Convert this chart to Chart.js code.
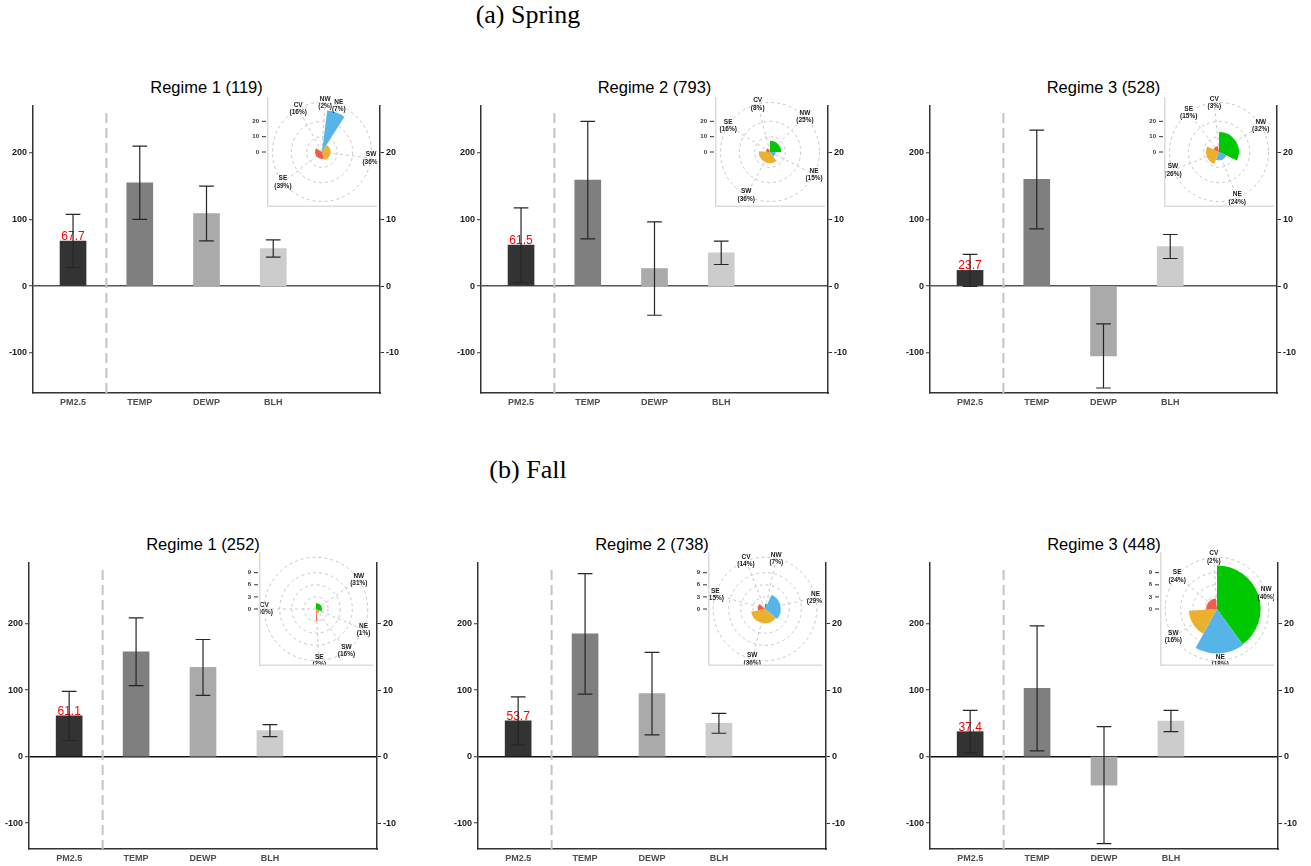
<!DOCTYPE html>
<html>
<head>
<meta charset="utf-8">
<script src="https://cdn.jsdelivr.net/npm/chart.js@4.4.1/dist/chart.umd.min.js"></script>
<style>
  html, body { margin: 0; padding: 0; background: #fff; }
  #fig { position: relative; width: 1311px; height: 866px; overflow: hidden; }
  #fig canvas { position: absolute; }
  .season { position: absolute; left: 0; width: 1056px; text-align: center;
            font: 26px "Liberation Serif", "Times New Roman", serif; line-height: 30px; color: #000; }
  .regime { position: absolute; text-align: center; white-space: nowrap;
            font: 16.5px "Liberation Sans", Arial, sans-serif; line-height: 18px; color: #000; }
</style>
</head>
<body>
<div id="fig"></div>
<script>
// ---- data ----
const variables = ['PM2.5', 'TEMP', 'DEWP', 'BLH'];

const springRegimes = ['Regime 1 (119)', 'Regime 2 (793)', 'Regime 3 (528)'];
const fallRegimes = ['Regime 1 (252)', 'Regime 2 (738)', 'Regime 3 (448)'];

// PM2.5 mean / sd (left axis)
const springPm25 = [67.7, 61.5, 23.7];
const springPm25Sd = [40, 56, 24];
const fallPm25 = [61.1, 53.7, 37.4];
const fallPm25Sd = [37, 36, 32];

// TEMP, DEWP, BLH mean / sd (right axis)
const springMet = [[15.5, 10.9, 5.65], [15.9, 2.65, 5.0], [16.0, -10.45, 5.95]];
const springMetSd = [[5.5, 4.1, 1.3], [8.8, 7.0, 1.75], [7.4, 4.8, 1.8]];
const fallMet = [[15.75, 13.4, 3.9], [18.45, 9.45, 5.0], [10.25, -4.3, 5.35]];
const fallMetSd = [[5.1, 4.2, 0.9], [9.05, 6.2, 1.5], [9.4, 8.8, 1.6]];

const leftTicks = [-100, 0, 100, 200];
const rightTicks = [-10, 0, 10, 20];

// wind roses: clockwise from north
const windDirs = ['NW', 'NE', 'SW', 'SE', 'CV'];
const springWindPct = [[2, 7, 36, 39, 16], [25, 15, 36, 16, 8], [32, 24, 26, 15, 3]];
const springWindVal = [[3, 27.3, 5.5, 4.5, 0], [7.3, 3.7, 7.3, 2.7, 0], [13, 5.4, 8.5, 4, 0]];
const fallWindPct = [[31, 1, 16, 2, 50], [7, 29, 36, 15, 14], [40, 18, 16, 24, 2]];
const fallWindVal = [[1.5, 2, 1.1, 2.9, 0], [1.25, 3.9, 3.5, 1.8, 0], [10.8, 11, 7, 2.7, 0]];
const springRoseTicks = [0, 10, 20];
const fallRoseTicks = [0, 3, 6, 9];

// ---- styles / layout ----
const FONT = '"Liberation Sans", Arial, sans-serif';
Chart.defaults.font.family = FONT;
const barColors = ['#333333', '#7f7f7f', '#aaaaaa', '#cccccc'];
const windColors = ['#00c800', '#56b4e9', '#ebb02d', '#f25c4b', '#999999'];
const gridGrey = '#c8c8c8';

const rows = [
  { season: '(a) Spring', seasonTop: 0, regimes: springRegimes, pm: springPm25, pmSd: springPm25Sd,
    met: springMet, metSd: springMetSd, pct: springWindPct, wind: springWindVal, roseTicks: springRoseTicks,
    roseMax: 28.7, yMin: -160, yMax: 270, plotTop: 106, plotH: 287, plotW: 347, lefts: [33, 481, 930],
    frameTop: 97, frameSize: 110, frameGap: 113.5, zeroColor: '#555' },
  { season: '(b) Fall', seasonTop: 455, regimes: fallRegimes, pm: fallPm25, pmSd: fallPm25Sd,
    met: fallMet, metSd: fallMetSd, pct: fallWindPct, wind: fallWindVal, roseTicks: fallRoseTicks,
    roseMax: 11.4, yMin: -139, yMax: 291, plotTop: 563, plotH: 286, plotW: 348, lefts: [29, 478, 930],
    frameTop: 552, frameSize: 114, frameGap: 118, zeroColor: '#111' }
];

const fig = document.getElementById('fig');

function addCanvas(left, top, w, h) {
  const c = document.createElement('canvas');
  c.width = w; c.height = h;
  c.style.left = left + 'px'; c.style.top = top + 'px';
  c.style.width = w + 'px'; c.style.height = h + 'px';
  fig.appendChild(c);
  return c;
}

function addText(cls, text, left, top, width) {
  const d = document.createElement('div');
  d.className = cls;
  d.textContent = text;
  d.style.left = left + 'px'; d.style.top = top + 'px';
  if (width) d.style.width = width + 'px';
  fig.appendChild(d);
}

// error bars, separator line and PM2.5 value label
const barExtras = {
  id: 'barExtras',
  beforeDatasetsDraw(chart) {
    const {ctx, chartArea} = chart;
    const x = chart.scales.x.getPixelForValue(1.5);
    ctx.save();
    ctx.strokeStyle = '#c4c4c4';
    ctx.lineWidth = 2;
    ctx.setLineDash([10, 5]);
    ctx.beginPath();
    ctx.moveTo(x, chartArea.top + 7);
    ctx.lineTo(x, chartArea.bottom);
    ctx.stroke();
    ctx.restore();
  },
  afterDatasetsDraw(chart) {
    const {ctx} = chart;
    const xs = chart.scales.x;
    const capHalf = xs.getPixelForValue(1.11) - xs.getPixelForValue(1);

    // value label on PM2.5 bar
    const pmBar = chart.getDatasetMeta(0).data[0];
    ctx.save();
    ctx.fillStyle = '#ff0000';
    ctx.font = '12px ' + FONT;
    ctx.textAlign = 'center';
    ctx.textBaseline = 'alphabetic';
    ctx.fillText(chart.data.datasets[0].data[0].y.toFixed(1), pmBar.x, pmBar.y - 1);

    ctx.strokeStyle = '#262626';
    ctx.lineWidth = 1.2;
    chart.data.datasets.forEach((ds, di) => {
      const ys = chart.scales[ds.yAxisID];
      chart.getDatasetMeta(di).data.forEach((bar, i) => {
        const m = ds.data[i].y, s = ds.sd[i];
        const top = ys.getPixelForValue(m + s), bot = ys.getPixelForValue(m - s);
        ctx.beginPath();
        ctx.moveTo(bar.x, top); ctx.lineTo(bar.x, bot);
        ctx.moveTo(bar.x - capHalf, top); ctx.lineTo(bar.x + capHalf, top);
        ctx.moveTo(bar.x - capHalf, bot); ctx.lineTo(bar.x + capHalf, bot);
        ctx.stroke();
      });
    });
    ctx.restore();
  }
};

function makeBarChart(canvas, row, k) {
  const tickFont = {size: 9, weight: 'bold'};
  return new Chart(canvas, {
    type: 'bar',
    data: {
      datasets: [
        { yAxisID: 'y', data: [{x: 1, y: row.pm[k]}], sd: [row.pmSd[k]],
          backgroundColor: barColors[0], grouped: false, barThickness: 26 },
        { yAxisID: 'y2', data: row.met[k].map((v, i) => ({x: i + 2, y: v})), sd: row.metSd[k],
          backgroundColor: barColors.slice(1), grouped: false, barThickness: 26 }
      ]
    },
    options: {
      responsive: false,
      animation: false,
      events: [],
      layout: { padding: { top: 10, left: 0, right: 0, bottom: 0 } },
      plugins: { legend: { display: false }, tooltip: { enabled: false } },
      scales: {
        x: {
          type: 'linear', min: 0.4, max: 5.6, offset: false,
          afterBuildTicks: s => { s.ticks = variables.map((v, i) => ({ value: i + 1 })); },
          ticks: { callback: v => variables[v - 1], font: tickFont, color: '#4d4d4d',
                   padding: 4, autoSkip: false, maxRotation: 0 },
          grid: { display: false, drawTicks: false, offset: false },
          border: { color: '#333', width: 1.5 },
          afterFit: s => { s.height = 22; }
        },
        y: {
          position: 'left', min: row.yMin, max: row.yMax,
          afterBuildTicks: s => { s.ticks = leftTicks.map(v => ({ value: v })); },
          ticks: { font: tickFont, color: '#1a1a1a', padding: 2 },
          grid: { color: c => (c.tick && c.tick.value === 0) ? row.zeroColor : 'rgba(0,0,0,0)',
                  lineWidth: 1.5, tickColor: '#333', tickWidth: 1, tickLength: 4 },
          border: { color: '#333', width: 1.5 },
          afterFit: s => { s.width = 36; }
        },
        y2: {
          position: 'right', min: row.yMin / 10, max: row.yMax / 10,
          afterBuildTicks: s => { s.ticks = rightTicks.map(v => ({ value: v })); },
          ticks: { font: tickFont, color: '#1a1a1a', padding: 2 },
          grid: { drawOnChartArea: false, tickColor: '#333', tickWidth: 1, tickLength: 4 },
          border: { color: '#333', width: 1.5 },
          afterFit: s => { s.width = 30; }
        }
      }
    },
    plugins: [barExtras]
  });
}

function rosePlugin(pct, tickVals, frame) {
  const centers = [];
  let cum = 0;
  pct.forEach(p => { centers.push((cum + p / 2) * 3.6 * Math.PI / 180); cum += p; });
  return {
    id: 'rose',
    beforeDraw(chart) {
      const ctx = chart.ctx;
      ctx.save();
      ctx.fillStyle = '#fff';
      ctx.fillRect(frame.x, frame.y, frame.w, frame.h);
      ctx.strokeStyle = '#dcdcdc';
      ctx.lineWidth = 1.5;
      ctx.beginPath();
      ctx.moveTo(frame.x + 0.75, frame.y);
      ctx.lineTo(frame.x + 0.75, frame.y + frame.h - 0.75);
      ctx.lineTo(frame.x + frame.w, frame.y + frame.h - 0.75);
      ctx.stroke();
      ctx.restore();
    },
    beforeDatasetsDraw(chart) {
      const r = chart.scales.r, ctx = chart.ctx;
      const outer = r.drawingArea * 1.125;
      ctx.save();
      ctx.strokeStyle = gridGrey;
      ctx.lineWidth = 1;
      ctx.setLineDash([3, 3]);
      centers.forEach(a => {
        ctx.beginPath();
        ctx.moveTo(r.xCenter, r.yCenter);
        ctx.lineTo(r.xCenter + outer * Math.sin(a), r.yCenter - outer * Math.cos(a));
        ctx.stroke();
      });
      ctx.restore();
    },
    afterDraw(chart) {
      const r = chart.scales.r, ctx = chart.ctx;
      const outer = r.drawingArea * 1.125;
      ctx.save();
      ctx.beginPath();
      ctx.rect(frame.x + 1.5, 0, frame.w, frame.y + frame.h - 1.5);
      ctx.clip();
      ctx.fillStyle = '#1a1a1a';
      ctx.font = 'bold 6.5px ' + FONT;
      ctx.textAlign = 'center';
      ctx.textBaseline = 'middle';
      centers.forEach((a, i) => {
        const x = r.xCenter + outer * Math.sin(a), y = r.yCenter - outer * Math.cos(a);
        ctx.fillText(windDirs[i], x, y - 3.7);
        ctx.fillText('(' + pct[i] + '%)', x, y + 3.7);
      });
      ctx.restore();

      ctx.save();
      ctx.fillStyle = '#333';
      ctx.strokeStyle = '#333';
      ctx.lineWidth = 1;
      ctx.font = 'bold 6px ' + FONT;
      ctx.textAlign = 'right';
      ctx.textBaseline = 'middle';
      tickVals.forEach(v => {
        const y = r.yCenter - r.getDistanceFromCenterForValue(v);
        ctx.fillText(String(v), frame.x - 8, y);
        ctx.beginPath();
        ctx.moveTo(frame.x - 5, y); ctx.lineTo(frame.x - 1, y);
        ctx.stroke();
      });
      ctx.restore();
    }
  };
}

function makeRose(canvas, row, k, frame, pad) {
  const pct = row.pct[k];
  return new Chart(canvas, {
    type: 'polarArea',
    data: {
      labels: windDirs,
      datasets: [{
        data: row.wind[k],
        backgroundColor: windColors,
        borderWidth: 0,
        angle: c => pct[c.dataIndex] * 3.6
      }]
    },
    options: {
      responsive: false,
      animation: false,
      events: [],
      layout: { padding: { left: frame.x + pad, right: pad, top: frame.y + pad, bottom: pad } },
      plugins: { legend: { display: false }, tooltip: { enabled: false } },
      scales: {
        r: {
          min: 0, max: row.roseMax, startAngle: 0,
          ticks: { display: false },
          afterBuildTicks: s => {
            s.ticks = row.roseTicks.map(v => ({ value: v })).concat([{ value: row.roseMax * 1.125 }]);
          },
          grid: { color: gridGrey, lineWidth: 1, circular: true },
          border: { dash: [3, 3] },
          angleLines: { display: false },
          pointLabels: { display: false }
        }
      }
    },
    plugins: [rosePlugin(pct, row.roseTicks, frame)]
  });
}

rows.forEach(row => {
  addText('season', row.season, 0, row.seasonTop);
  row.lefts.forEach((left, k) => {
    addText('regime', row.regimes[k], left, row.plotTop - 28.5, row.plotW);
    const cw = 36 + row.plotW + 30, ch = 10 + row.plotH + 22;
    makeBarChart(addCanvas(left - 36, row.plotTop - 10, cw, ch), row, k);
  });
});

// insets on top
rows.forEach(row => {
  row.lefts.forEach((left, k) => {
    const plotRight = left + row.plotW;
    const labelW = 24, headroom = 8;
    const size = row.frameSize;
    const frameLeft = Math.round(plotRight - row.frameGap);
    const frame = { x: labelW, y: headroom, w: size, h: size };
    const pad = Math.round(size * 0.1);
    makeRose(addCanvas(frameLeft - labelW, row.frameTop - headroom, labelW + size, headroom + size + 1),
             row, k, frame, pad);
  });
});
</script>
</body>
</html>
